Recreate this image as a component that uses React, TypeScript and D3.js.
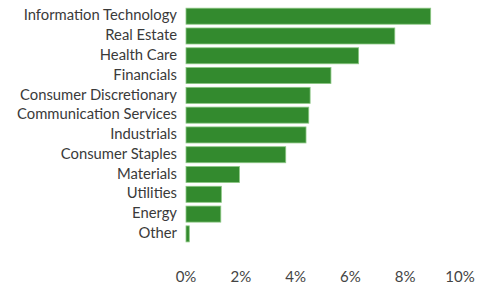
import React from "react";
import * as d3 from "d3";

const categories = [
  "Information Technology",
  "Real Estate",
  "Health Care",
  "Financials",
  "Consumer Discretionary",
  "Communication Services",
  "Industrials",
  "Consumer Staples",
  "Materials",
  "Utilities",
  "Energy",
  "Other",
];
const values = [8.93, 7.62, 6.3, 5.29, 4.53, 4.48, 4.38, 3.64, 1.95, 1.29, 1.27, 0.12];
const ticks = [0, 2, 4, 6, 8, 10];

const W = 489;
const H = 289;

export default function App() {
  const x = d3.scaleLinear().domain([0, 10]).range([186, 460]);
  const y = d3
    .scaleBand<string>()
    .domain(categories)
    .range([6.3, 6.3 + 19.79 * categories.length])
    .paddingInner(0.19)
    .paddingOuter(0.095);
  const font = "Lato, 'Open Sans', sans-serif";
  return (
    <svg
      width={W}
      height={H}
      style={{ position: "absolute", left: 0, top: 0, background: "#fff" }}
    >
      {categories.map((c, i) => (
        <g key={c}>
          <rect
            x={x(0)}
            y={y(c)!}
            width={Math.max(0, x(values[i]) - x(0))}
            height={y.bandwidth()}
            fill="#338a2e"
            stroke="#8cc784"
            strokeWidth={0.8}
          />
          <text
            x={177}
            y={y(c)! + y.bandwidth() / 2 - 1}
            dy="0.35em"
            textAnchor="end"
            fontFamily={font}
            fontSize={14.8}
            fill="#3a3a3a"
          >
            {c}
          </text>
        </g>
      ))}
      {ticks.map((t) => (
        <text
          key={t}
          x={x(t)}
          y={282}
          textAnchor="middle"
          fontFamily={font}
          fontSize={15}
          fill="#444"
        >
          {t}%
        </text>
      ))}
    </svg>
  );
}
